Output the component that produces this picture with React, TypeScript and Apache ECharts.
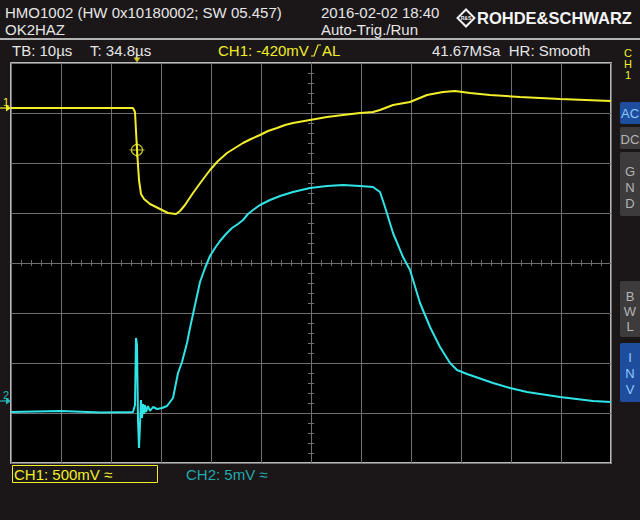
import React, { useEffect, useRef } from "react";
import * as echarts from "echarts";

// Time (µs, relative to screen centre) and level (divisions) for CH1
const ch1Time = [-60, -35.6, -35.2, -34.8, -34.4, -34.0, -33.4, -32.2, -30.2, -28.6, -27.0, -26.2, -25.2, -23.6, -22.0, -20.2, -18.6, -16.8, -15.2, -13.6, -12.0, -10.2, -8.6, -6.8, -5.2, -3.6, -0.2, 3.2, 6.4, 9.8, 12.4, 13.8, 16.4, 19.8, 23.2, 26.4, 28.8, 31.8, 35.8, 41.8, 49.8, 60];
const ch1Level = [3.1, 3.1, 3.02, 2.26, 1.66, 1.38, 1.28, 1.18, 1.08, 1.0, 0.98, 1.04, 1.16, 1.4, 1.62, 1.86, 2.04, 2.2, 2.3, 2.4, 2.48, 2.56, 2.64, 2.7, 2.76, 2.8, 2.86, 2.92, 2.96, 3.0, 3.02, 3.06, 3.16, 3.22, 3.36, 3.42, 3.44, 3.4, 3.36, 3.32, 3.28, 3.24];

// CH2
const ch2Time = [-60, -50, -42, -35.6, -35.2, -35.0, -34.8, -34.6, -34.4, -34.2, -34.0, -33.8, -33.6, -33.4, -33.2, -33.0, -32.6, -32.2, -31.6, -30.8, -29.8, -28.8, -27.6, -26.6, -25.8, -24.8, -24.2, -23.2, -22.2, -21.2, -20.2, -19.2, -18.2, -17.0, -15.8, -14.6, -13.6, -12.6, -11.6, -10.2, -8.2, -6.2, -3.6, -0.2, 3.2, 6.4, 9.8, 12.4, 13.8, 14.8, 16.4, 18.4, 19.8, 21.8, 23.8, 25.8, 27.8, 29.2, 31.2, 36.4, 39.8, 43.2, 49.8, 56.4, 60];
const ch2Level = [-2.98, -2.96, -2.99, -2.98, -2.84, -1.5, -1.64, -3.14, -3.7, -3.24, -2.74, -3.1, -2.82, -3.02, -2.84, -2.98, -2.86, -2.96, -2.88, -2.92, -2.9, -2.86, -2.7, -2.2, -1.98, -1.6, -1.3, -0.84, -0.38, -0.1, 0.14, 0.3, 0.44, 0.58, 0.7, 0.78, 0.86, 0.98, 1.06, 1.16, 1.26, 1.34, 1.42, 1.5, 1.54, 1.56, 1.54, 1.52, 1.42, 1.12, 0.6, 0.12, -0.14, -0.8, -1.28, -1.68, -2.0, -2.14, -2.22, -2.4, -2.5, -2.58, -2.68, -2.76, -2.78];

const triggerTime = -34.8;
const triggerLevel = 2.26;

const headerLines = ["HMO1002 (HW 0x10180002; SW 05.457)", "OK2HAZ"];
const statusLines = ["2016-02-02 18:40", "Auto-Trig./Run"];

const YEL = "#f2ee2a";
const CYAN = "#2fe3e6";
const TXT = "#e6e6e6";
const FONT = "Liberation Sans";
const GRID = "#707070";

function txt(x: number, y: number, text: string, fill: string, size = 15, align = "left", weight = "normal") {
  return {
    type: "text",
    x,
    y,
    style: {
      text,
      fill,
      font: `${weight} ${size}px "${FONT}"`,
      textAlign: align,
      textVerticalAlign: "middle",
    },
  };
}

function button(y: number, h: number, letters: string[], bg: string, fg: string, ys: number[]) {
  const els: any[] = [
    { type: "rect", shape: { x: 620, y, width: 22, height: h, r: 2 }, style: { fill: bg } },
  ];
  letters.forEach((l, i) => els.push(txt(630, ys[i], l, fg, 13, "center")));
  return els;
}

export default function App() {
  const ref = useRef<HTMLDivElement>(null);
  useEffect(() => {
    if (!ref.current) return;
    const chart = echarts.init(ref.current, undefined, { renderer: "svg" });
    const ch1Data = ch1Time.map((t, i) => [t, ch1Level[i]]);
    const ch2Data = ch2Time.map((t, i) => [t, ch2Level[i]]);

    const tickAxisCommon = {
      axisLine: { onZero: true, lineStyle: { color: GRID, width: 1 } },
      axisTick: { show: true, inside: true, length: 3, lineStyle: { color: GRID } },
      minorTick: { show: true, splitNumber: 5, length: 3, lineStyle: { color: GRID } },
      axisLabel: { show: false },
    };

    const graphic: any[] = [
      txt(5, 12, headerLines[0], TXT),
      txt(5, 29, headerLines[1], TXT),
      txt(321, 12, statusLines[0], TXT),
      txt(321, 29, statusLines[1], TXT),
      // logo
      {
        type: "rect",
        x: 466,
        y: 18,
        rotation: Math.PI / 4,
        shape: { x: -6, y: -6, width: 12, height: 12 },
        style: { fill: "none", stroke: "#f0f0f0", lineWidth: 2 },
      },
      txt(466, 18, "R&S", "#f0f0f0", 5, "center", "bold"),
      txt(477, 18, "ROHDE&SCHWARZ", "#f4f4f4", 16.5, "left", "bold"),
      { type: "line", shape: { x1: 0, y1: 39, x2: 640, y2: 39 }, style: { stroke: "#e8e8e8", lineWidth: 1.5 } },
      txt(12, 50, "TB: 10µs", TXT),
      txt(90, 50, "T: 34.8µs", TXT),
      txt(218, 50, "CH1: -420mV", YEL),
      { type: "polyline", shape: { points: [[311, 56], [314, 56], [318, 45], [321, 45]] }, style: { stroke: YEL, lineWidth: 1.2, fill: "none" } },
      txt(322, 50, "AL", YEL),
      txt(432, 50, "41.67MSa  HR: Smooth", TXT),
      txt(628, 53, "C", YEL, 11, "center"),
      txt(628, 64, "H", YEL, 11, "center"),
      txt(628, 75, "1", YEL, 11, "center"),
      ...button(102, 22, ["AC"], "#1d4d9c", "#8ec8ff", [113]),
      ...button(127, 22, ["DC"], "#3d3b3c", "#b4b4b4", [139]),
      ...button(152, 64, ["G", "N", "D"], "#3d3b3c", "#b4b4b4", [171, 187, 203]),
      ...button(281, 56, ["B", "W", "L"], "#3d3b3c", "#b4b4b4", [296, 311, 326]),
      ...button(343, 59, ["I", "N", "V"], "#1d4d9c", "#8ec8ff", [357, 373, 389]),
      // channel markers
      txt(3, 102, "1", YEL, 11),
      { type: "line", shape: { x1: 0, y1: 108, x2: 7, y2: 108 }, style: { stroke: YEL, lineWidth: 1.2 } },
      { type: "polygon", shape: { points: [[6, 104.5], [11, 108], [6, 111.5]] }, style: { fill: YEL } },
      txt(3, 395, "2", "#26b8bb", 11),
      { type: "line", shape: { x1: 0, y1: 401, x2: 7, y2: 401 }, style: { stroke: "#26b8bb", lineWidth: 1.2 } },
      { type: "polygon", shape: { points: [[6, 397.5], [11, 401], [6, 404.5]] }, style: { fill: "#26b8bb" } },
      // bottom
      { type: "rect", shape: { x: 12.5, y: 465.5, width: 145, height: 17 }, style: { fill: "none", stroke: YEL, lineWidth: 1 } },
      txt(14, 474, "CH1: 500mV ≈", YEL),
      txt(186, 474, "CH2: 5mV ≈", "#22a9aa"),
    ];

    chart.setOption({
      animation: false,
      backgroundColor: "#1b1719",
      grid: {
        left: 11,
        top: 63,
        width: 600,
        height: 400,
        show: true,
        backgroundColor: "#000",
        borderColor: "#f2f2f2",
        borderWidth: 1.5,
      },
      xAxis: [
        {
          type: "value",
          min: -60,
          max: 60,
          interval: 10,
          position: "bottom",
          ...tickAxisCommon,
          splitLine: { show: true, lineStyle: { color: GRID, width: 1 } },
        },
        {
          type: "value",
          min: -60,
          max: 60,
          interval: 10,
          position: "top",
          ...tickAxisCommon,
          splitLine: { show: false },
        },
      ],
      yAxis: [
        {
          type: "value",
          min: -4,
          max: 4,
          interval: 1,
          position: "left",
          ...tickAxisCommon,
          splitLine: { show: true, lineStyle: { color: GRID, width: 1 } },
        },
        {
          type: "value",
          min: -4,
          max: 4,
          interval: 1,
          position: "right",
          ...tickAxisCommon,
          splitLine: { show: false },
        },
      ],
      graphic,
      series: [
        {
          type: "line",
          data: ch1Data,
          symbol: "none",
          lineStyle: { color: YEL, width: 2 },
          z: 3,
        },
        {
          type: "line",
          data: ch2Data,
          symbol: "none",
          lineStyle: { color: CYAN, width: 2 },
          z: 3,
        },
        {
          type: "scatter",
          data: [[triggerTime, triggerLevel]],
          symbol: "circle",
          symbolSize: 11,
          itemStyle: { color: "rgba(0,0,0,0)", borderColor: YEL, borderWidth: 1.2 },
          z: 4,
        },
        {
          type: "scatter",
          data: [[triggerTime, triggerLevel]],
          symbol: "path://M0,8L16,8M8,0L8,16",
          symbolSize: 15,
          itemStyle: { color: "none", borderColor: YEL, borderWidth: 1.2 },
          z: 4,
        },
        {
          type: "scatter",
          data: [[triggerTime, 4]],
          symbol: "triangle",
          symbolRotate: 180,
          symbolSize: [7, 5],
          symbolOffset: [0, -3],
          clip: false,
          itemStyle: { color: YEL },
          z: 5,
        },
      ],
    });
    return () => chart.dispose();
  }, []);
  return <div ref={ref} style={{ position: "absolute", left: 0, top: 0, width: 640, height: 520 }} />;
}
